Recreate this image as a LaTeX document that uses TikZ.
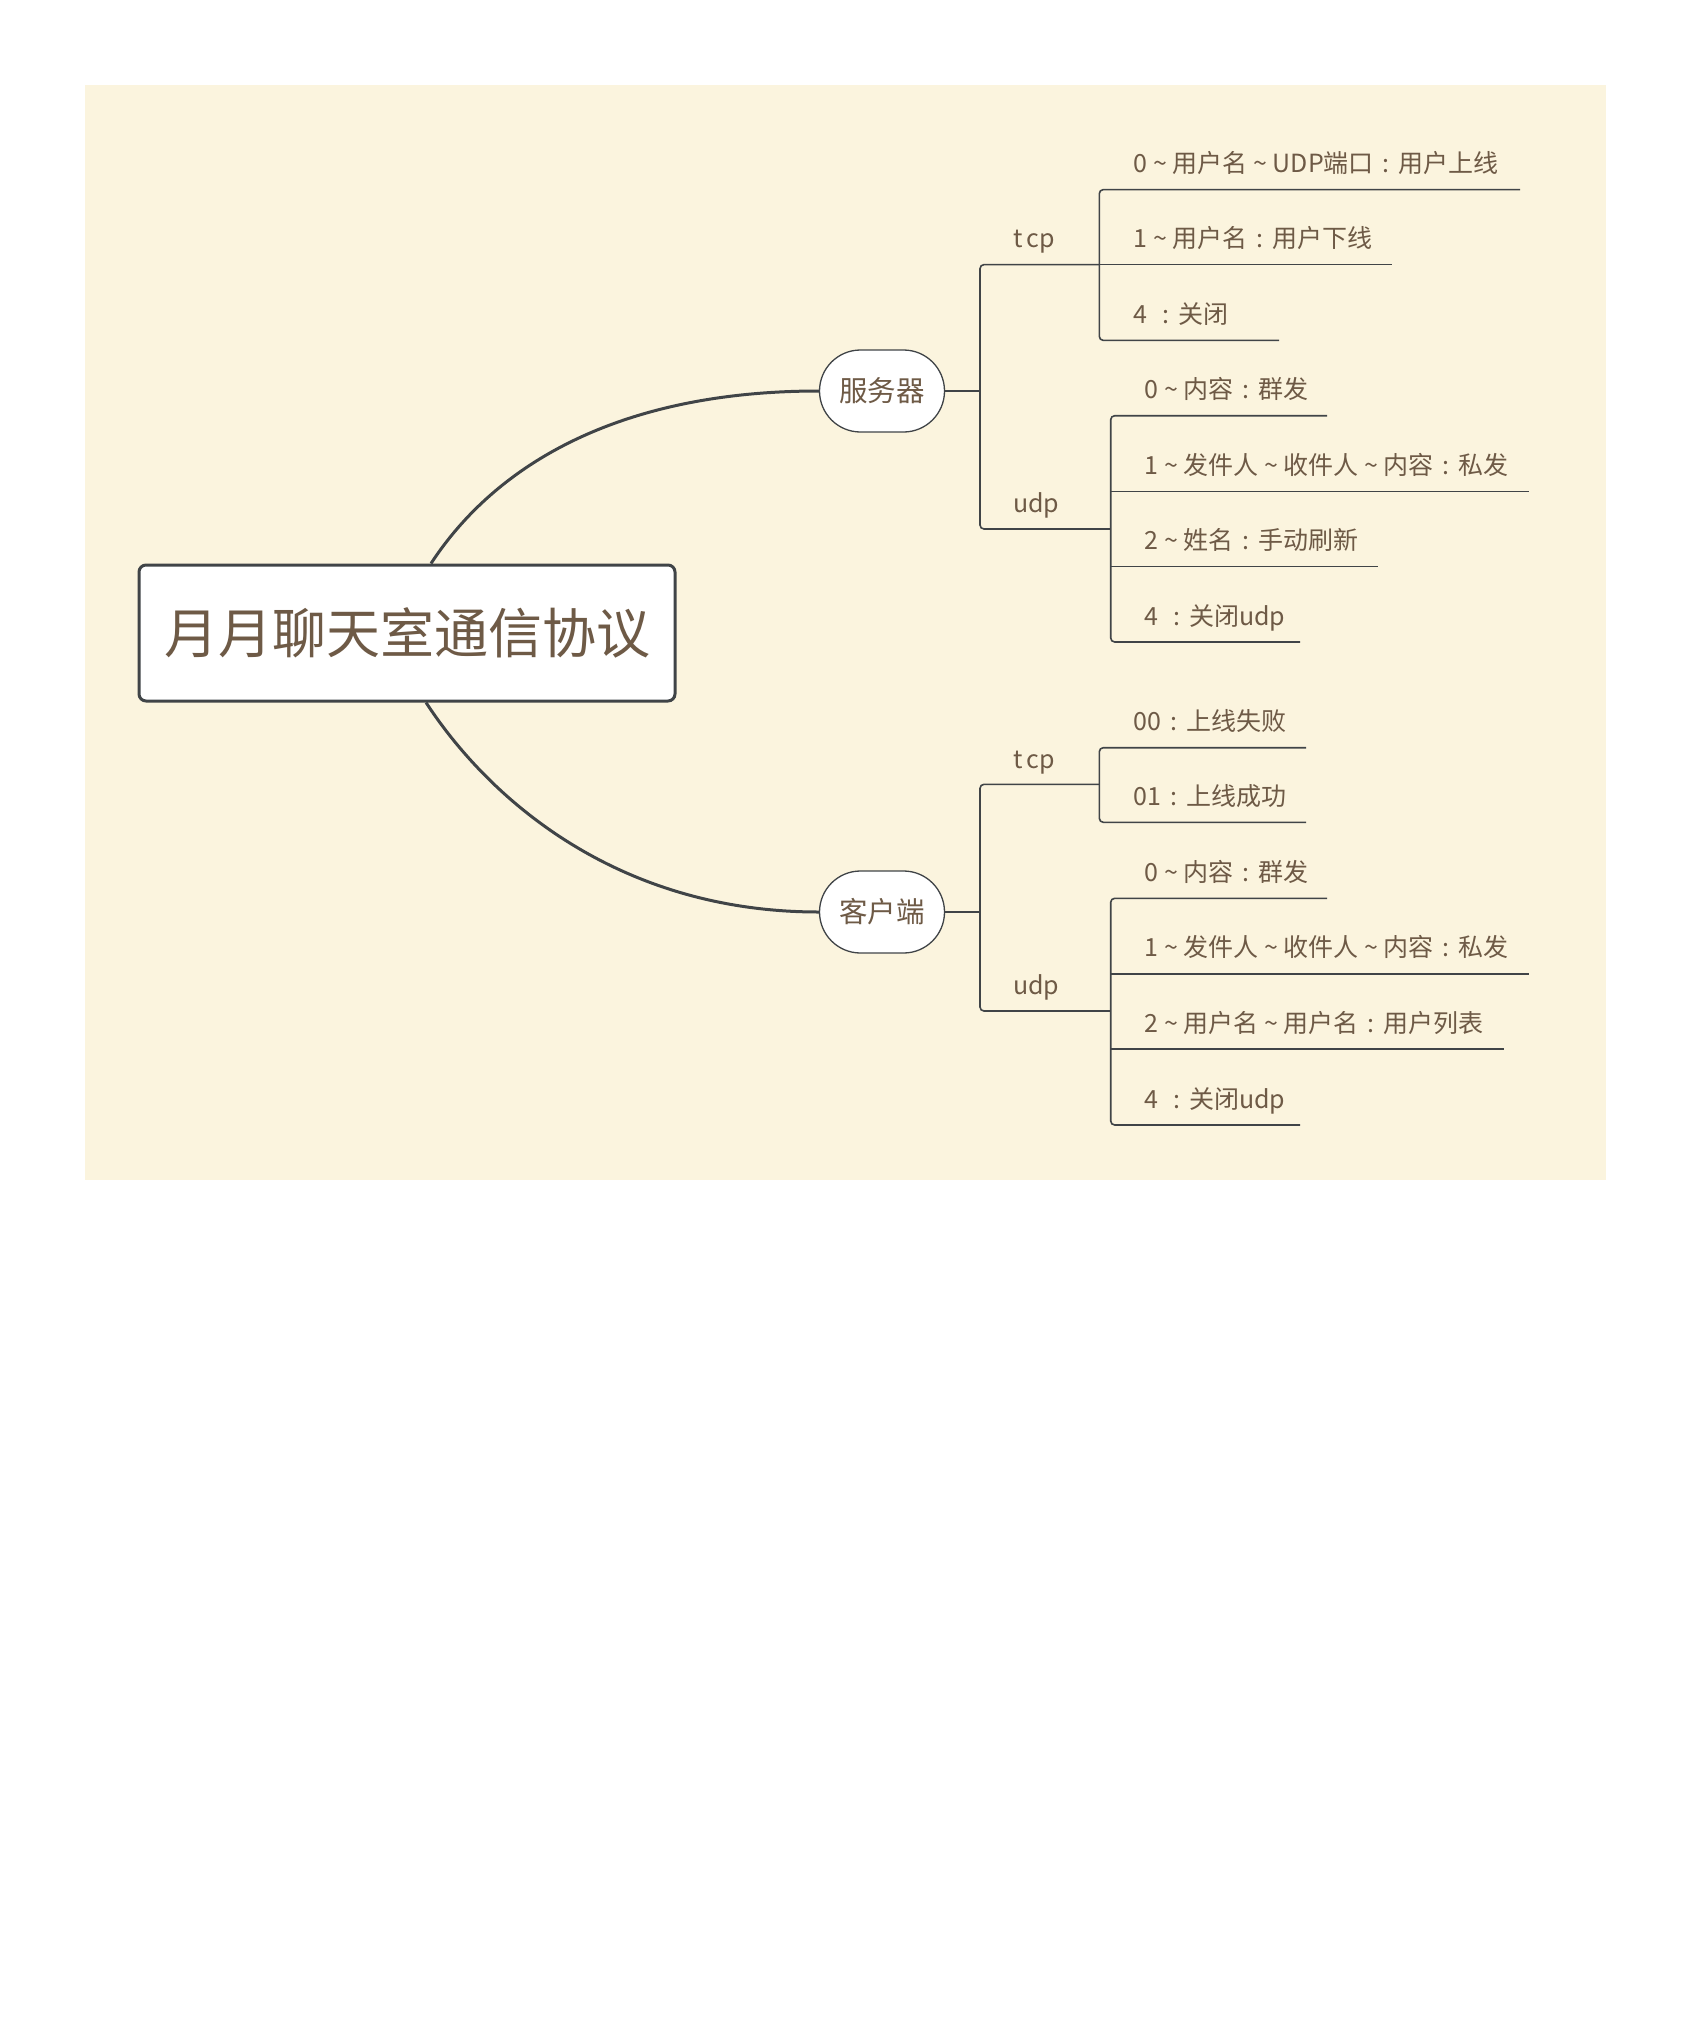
\documentclass[tikz,border=0pt]{standalone}
\usepackage{fontspec}
\setmainfont{Noto Sans CJK SC}
\newfontfamily\cjkf{Noto Sans CJK SC}
\newcommand\tld{\makebox[1em]{\textasciitilde}}
\newcommand\cln{\makebox[1em]{:}}
\definecolor{bgcream}{RGB}{251,244,222}
\definecolor{txtbrown}{RGB}{110,90,70}
\definecolor{linegray}{RGB}{64,68,71}
\tikzset{
  mainline/.style={draw=linegray, line width=3pt},
  branch/.style={draw=linegray, line width=1.6pt, rounded corners=4pt},
  titlebox/.style={draw=linegray, line width=3pt, fill=white, rounded corners=7pt,
    minimum width=536pt, minimum height=136pt, inner sep=0pt, text=txtbrown,
    font=\cjkf\fontsize{54}{60}\selectfont},
  pill/.style={draw=linegray, line width=1.3pt, fill=white, rounded corners=41pt,
    minimum width=125pt, minimum height=82pt, inner sep=0pt, text=txtbrown,
    font=\cjkf\fontsize{28.5}{32}\selectfont},
  leaf/.style={anchor=base west, inner sep=0pt, text=txtbrown,
    font=\cjkf\fontsize{25}{30}\selectfont},
  kind/.style={anchor=base west, inner sep=0pt, text=txtbrown,
    font=\cjkf\fontsize{25}{30}\selectfont}
}
\begin{document}
\begin{tikzpicture}[x=1pt, y=-1pt]
\useasboundingbox (0,0) rectangle (1692,2031);
\fill[white] (0,0) rectangle (1692,2031);
\fill[bgcream] (85,85) rectangle (1606,1180);

% central topic
\node[titlebox] (root) at (407,633) {月月聊天室通信协议};
\node[pill] (srv) at (882,391) {服务器};
\node[pill] (cli) at (882,912) {客户端};

\draw[mainline] (root.north -| 431,0) .. controls (496,464) and (620,391) .. (srv.west);
\draw[mainline] (root.south -| 426,0) .. controls (491,802) and (620,912) .. (cli.west);

% ---------------- server ----------------
\coordinate (sT) at (980,391);
\draw[branch] (srv.east) -- (sT);
\coordinate (sTcp) at (1099.3,264.6);
\coordinate (sUdp) at (1110.7,529);
\draw[branch] (sTcp) -- (980,264.6) -- (980,529) -- (sUdp);

\node[kind] (stcp) at (1013,247) {t\,cp};
\node[kind] (sudp) at (1013,512) {udp};

% tcp children
\coordinate (st1) at (1520,189.6);
\coordinate (st2) at (1392,264.6);
\coordinate (st3) at (1279,340.4);
\draw[branch] (st1) -- (1099.3,189.6) -- (1099.3,340.4) -- (st3);
\draw[branch] (sTcp) -- (st2);
\node[leaf] (stx1) at (1133.7,172.6) {0\tld 用户名\tld UDP端口\cln 用户上线};
\node[leaf] (stx2) at (1133.7,247.6) {1\tld 用户名\cln 用户下线};
\node[leaf] (stx3) at (1133.7,323.4) {4 \cln 关闭};

% udp children
\coordinate (su1) at (1327,415.7);
\coordinate (su2) at (1529,491.4);
\coordinate (su3) at (1378,566.4);
\coordinate (su4) at (1300,642);
\draw[branch] (su1) -- (1110.7,415.7) -- (1110.7,642) -- (su4);
\draw[branch] (1110.7,491.4) -- (su2);
\draw[branch] (1110.7,566.4) -- (su3);
\node[leaf] (sux1) at (1144.4,398.7) {0\tld 内容\cln 群发};
\node[leaf] (sux2) at (1144.4,474.4) {1\tld 发件人\tld 收件人\tld 内容\cln 私发};
\node[leaf] (sux3) at (1144.4,549.4) {2\tld 姓名\cln 手动刷新};
\node[leaf] (sux4) at (1144.4,625) {4 \cln 关闭udp};

% ---------------- client ----------------
\coordinate (cT) at (980,912);
\draw[branch] (cli.east) -- (cT);
\coordinate (cTcp) at (1099.3,784.3);
\coordinate (cUdp) at (1110.7,1011);
\draw[branch] (cTcp) -- (980,784.3) -- (980,1011) -- (cUdp);

\node[kind] (ctcp) at (1013,768) {t\,cp};
\node[kind] (cudp) at (1013,994) {udp};

% tcp children
\coordinate (ct1) at (1306,747.7);
\coordinate (ct2) at (1306,822.3);
\draw[branch] (ct1) -- (1099.3,747.7) -- (1099.3,822.3) -- (ct2);
\node[leaf] (ctx1) at (1133.7,730.7) {00\cln 上线失败};
\node[leaf] (ctx2) at (1133.7,805.3) {01\cln 上线成功};

% udp children
\coordinate (cu1) at (1327,898.3);
\coordinate (cu2) at (1529,973.7);
\coordinate (cu3) at (1504,1049);
\coordinate (cu4) at (1300,1125);
\draw[branch] (cu1) -- (1110.7,898.3) -- (1110.7,1125) -- (cu4);
\draw[branch] (1110.7,973.7) -- (cu2);
\draw[branch] (1110.7,1049) -- (cu3);
\node[leaf] (cux1) at (1144.4,881.3) {0\tld 内容\cln 群发};
\node[leaf] (cux2) at (1144.4,956.7) {1\tld 发件人\tld 收件人\tld 内容\cln 私发};
\node[leaf] (cux3) at (1144.4,1032) {2\tld 用户名\tld 用户名\cln 用户列表};
\node[leaf] (cux4) at (1144.4,1108) {4 \cln 关闭udp};
\end{tikzpicture}
\end{document}
